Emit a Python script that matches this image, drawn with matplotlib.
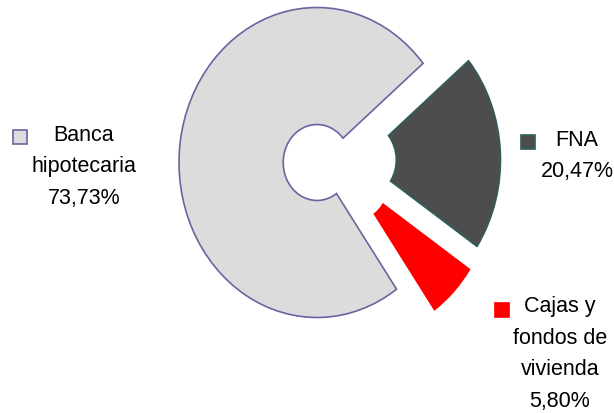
import matplotlib.pyplot as plt
from matplotlib.patches import Rectangle

plt.rcParams['font.family'] = ['Liberation Sans', 'DejaVu Sans']

names = ['Banca\nhipotecaria', 'FNA', 'Cajas y\nfondos de\nvivienda']
shares = [73.73, 20.47, 5.80]
colors = ['#dcdcdc', '#4d4d4d', '#ff0000']
edges = ['#6666a0', '#2e5e5e', '#ff0000']
explode = [0, 0.33, 0.3]

W, H = 614, 414
fig = plt.figure(figsize=(W / 100, H / 100), dpi=100)
ax = fig.add_axes([0, 0, 1, 1])

wedges, _ = ax.pie(shares, explode=explode, colors=colors, startangle=305.2,
                   counterclock=False, radius=1,
                   wedgeprops=dict(width=0.755, linewidth=1.2))
for w, ec in zip(wedges, edges):
    w.set_edgecolor(ec)
# red slice sits a bit more to the right in the original
wedges[2].set_center((0.275, -0.132))

# the original doughnut is a bit taller than wide
ax.set_aspect('auto')
ax.set_xlim(-317 / 138, (W - 317) / 138)
ax.set_ylim(-(H - 163.5) / 155, 163.5 / 155)
ax.axis('off')

# data labels with their little legend keys (pixel positions)
label_pos = [(84, 167), (577, 156), (560, 354)]
key_pos = [(20, 138), (528, 143), (502, 311)]
for name, v, c, ec, (lx, ly), (kx, ky) in zip(names, shares, colors, edges, label_pos, key_pos):
    txt = name + '\n' + f'{v:.2f}'.replace('.', ',') + '%'
    fig.text(lx / W, 1 - ly / H, txt, ha='center', va='center',
             multialignment='center', fontsize=15.5, linespacing=1.65)
    fig.add_artist(Rectangle(((kx - 7) / W, 1 - (ky + 7) / H), 14 / W, 14 / H,
                             transform=fig.transFigure, facecolor=c,
                             edgecolor=ec, linewidth=1.2))

fig.savefig('out.png', dpi=100)
